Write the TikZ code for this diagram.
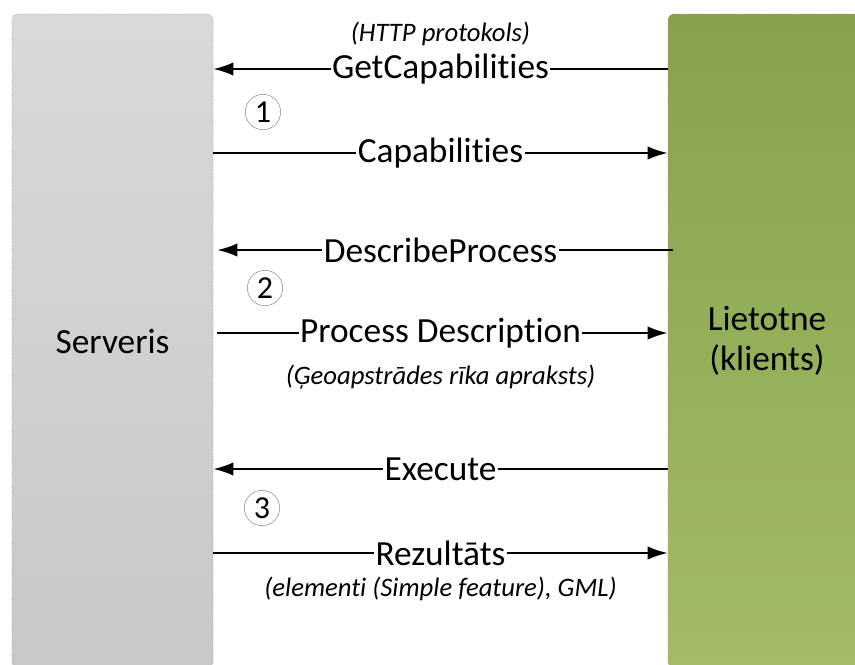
\documentclass[tikz,border=0pt]{standalone}
\usepackage{fontspec}
\setmainfont{Carlito}[Ligatures=NoCommon]
\usetikzlibrary{arrows.meta,positioning}

\definecolor{srvtop}{HTML}{D9D9D9}
\definecolor{srvbot}{HTML}{C8C8C8}
\definecolor{clitop}{HTML}{86A24A}
\definecolor{clibot}{HTML}{A1BC65}

\begin{document}
\begin{tikzpicture}[x=0.75pt,
            y=-0.75pt,
            box/.style={draw=gray!80,densely dotted,rounded corners=4pt,
                        minimum height=490.5pt,align=center,
                        font=\fontsize{26.5}{30}\selectfont},
            msg/.style={-{Latex[length=15pt,width=10pt]},line width=1.6pt},
            lbl/.style={fill=white,inner sep=1pt,font=\fontsize{26.5}{30}\selectfont},
            note/.style={inner sep=1pt,font=\fontsize{20}{24}\selectfont\itshape},
            nr/.style={circle,draw=gray!90,minimum size=26.5pt,inner sep=0pt,
                       font=\fontsize{24}{28}\selectfont}]

        \useasboundingbox (0,0) rectangle (855,664);

        % the two sides
        \node[box,top color=srvtop,bottom color=srvbot,minimum width=150.75pt]
              (srv) at (112.5,341) {Serveris};
        \node[box,top color=clitop,bottom color=clibot,minimum width=148.5pt]
              (cli) at (767,341) {Lietotne\\(klients)};

        % requests and answers
        \draw[msg] (cli.west |- 0,69) -- node[lbl] (getcap) {GetCapabilities} (srv.east |- 0,69);
        \draw[msg] (srv.east |- 0,153) -- node[lbl] (cap) {Capabilities} (cli.west |- 0,153);
        \draw[msg,shorten <=-4pt,shorten >=3pt] (cli.west |- 0,250) -- node[lbl] (descr) {DescribeProcess} (srv.east |- 0,250);
        \draw[msg,shorten <=3pt] (srv.east |- 0,333) -- node[lbl] (procd) {Process Description} (cli.west |- 0,333);
        \draw[msg] (cli.west |- 0,469) -- node[lbl] (exec) {Execute} (srv.east |- 0,469);
        \draw[msg] (srv.east |- 0,553) -- node[lbl] (rez) {Rezultāts} (cli.west |- 0,553);

        \node[note,above=3pt of getcap] (http) {(HTTP protokols)};
        \node[note,below=10pt of procd] (geo) {(Ģeoapstrādes rīka apraksts)};
        \node[note,below=6pt of rez] (gml) {(elementi (Simple feature), GML)};

        % steps
        \node[nr] (n1) at (263,112) {1};
        \node[nr] (n2) at (265,288) {2};
        \node[nr] (n3) at (262,508) {3};

    \end{tikzpicture}
\end{document}
